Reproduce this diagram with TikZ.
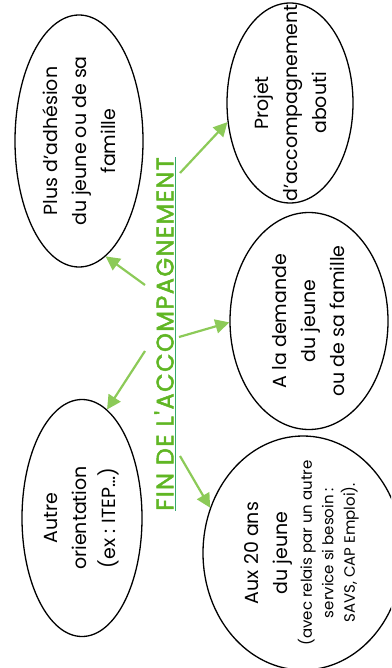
\documentclass[tikz,border=0pt]{standalone}
\usepackage{fontspec}
\setmainfont{Poppins}
\newfontfamily\headfont[LetterSpace=6,FakeBold=2]{Poppins}
\usepackage{tikz}
\usetikzlibrary{positioning,shapes.geometric,arrows.meta}
\definecolor{headgreen}{RGB}{96,182,36}
\definecolor{ulgreen}{RGB}{52,168,110}
\definecolor{linkgreen}{RGB}{140,202,88}

\begin{document}
\begin{tikzpicture}[
  x = 1pt,
  y = -1pt,
  bubble/.style = {
    draw,
    ellipse,
    line width = 1.3pt,
    inner sep = -40pt,
    rotate = 90,
    align = center,
    font = \fontsize{19}{29}\selectfont,
  },
  headline/.style = {
    rotate = 90,
    text = headgreen,
    font = \headfont\fontsize{24}{28}\selectfont,
    inner xsep = 0pt,
    inner ysep = 2pt,
  },
  link/.style = {
    draw = linkgreen,
    fill = linkgreen,
    line width = 2.2pt,
    -{Triangle[length=14pt,width=14pt]},
  },
]

  \useasboundingbox (0,0) rectangle (391,668);
  \clip (0,0) rectangle (391,668);

  \node[headline] (titre) at (164,334) {FIN DE L'ACCOMPAGNEMENT};
  \draw[ulgreen,line width=1pt] (titre.south west) -- (titre.south east);

  \node[bubble,minimum width=252pt,minimum height=128pt] (plus) at (79,141)
    {Plus d'adhésion\\du jeune ou de sa\\famille};
  \node[bubble,minimum width=200pt,minimum height=126pt] (projet) at (290,103)
    {Projet\\d'accompagnement\\abouti};
  \node[bubble,minimum width=217pt,minimum height=158pt] (demande) at (309,321)
    {A la demande\\du jeune\\ou de sa famille};
  \node[bubble,minimum width=237pt,minimum height=120pt] (autre) at (82,518)
    {Autre\\orientation\\(ex : ITEP…)};
  \node[bubble,minimum width=234pt,minimum height=200pt] (aux) at (303,553)
    {Aux 20 ans\\du jeune\\[-5pt]{\fontsize{15}{21.5}\selectfont
     \begin{tabular}[t]{@{}c@{}}(avec relais par un autre\\service si besoin :\\SAVS, CAP Emploi).\end{tabular}}};

  \coordinate (s1) at (145,285);
  \coordinate (s2) at (180,173);
  \coordinate (s3) at (179,337);
  \coordinate (s4) at (145,351);
  \coordinate (s5) at (180,456);

  \draw[link] (s1) -- (plus.193);
  \draw[link] (s2) -- (projet.107);
  \draw[link] (s3) -- (demande.91);
  \draw[link] (s4) -- (autre.347);
  \draw[link] (s5) -- (aux.64);

\end{tikzpicture}
\end{document}
